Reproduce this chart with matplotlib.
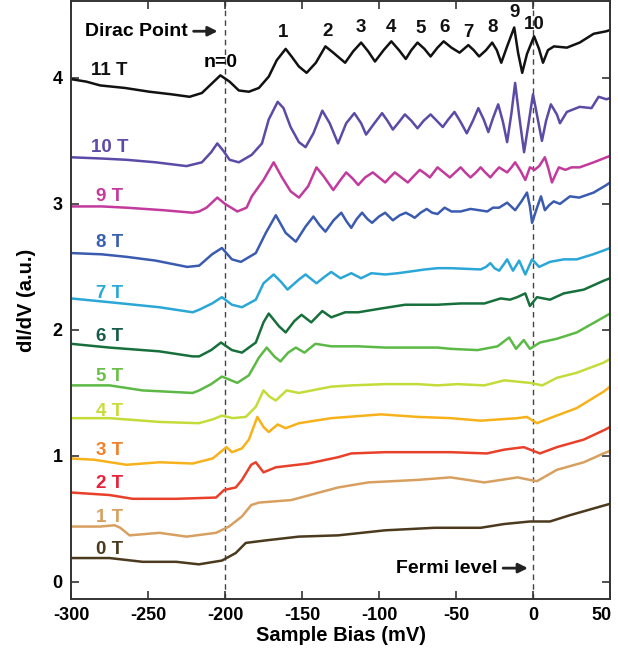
import matplotlib
matplotlib.use("Agg")
import matplotlib.pyplot as plt
from matplotlib.transforms import ScaledTranslation

plt.rcParams['font.family'] = ['Liberation Sans', 'DejaVu Sans']
plt.rcParams['font.weight'] = 'bold'
plt.rcParams['axes.unicode_minus'] = False

# bias (mV) and dI/dV (a.u., offset), one pair per field
bias_11 = [-300, -290, -281, -265, -249, -235, -223, -215, -209, -203, -197, -191, -184.5, -178, -171.6, -166.4,
           -160.6, -156.8, -152, -147, -141, -134.8, -129.7, -122, -116.8, -111.6, -107, -102.6, -97, -92, -87,
           -82.6, -79, -75, -70.5, -66.5, -62, -58, -53, -47.7, -42, -38.5, -35, -30.5, -26.5, -23.5, -20.6,
           -16.8, -12.2, -9.7, -7, -3.9, 0.7, 3.9, 6.5, 9.7, 13.6, 22, 30.3, 39.4, 47.7, 50]
didv_11 = [3.99, 3.97, 3.94, 3.92, 3.89, 3.87, 3.85, 3.88, 3.95, 4.02, 3.97, 3.90, 3.89, 3.92, 4.01, 4.14,
           4.23, 4.17, 4.09, 4.04, 4.12, 4.25, 4.20, 4.12, 4.21, 4.28, 4.21, 4.13, 4.22, 4.29, 4.22,
           4.15, 4.22, 4.28, 4.23, 4.17, 4.24, 4.29, 4.24, 4.20, 4.26, 4.22, 4.17, 4.22, 4.28, 4.22, 4.12,
           4.25, 4.40, 4.20, 4.04, 4.19, 4.33, 4.23, 4.12, 4.22, 4.25, 4.24, 4.28, 4.35, 4.37, 4.38]

bias_10 = [-300, -280, -264, -245, -225, -215, -209, -205, -201, -197, -191, -182.6, -176, -171.6, -165.8, -162,
           -157.4, -152, -147.7, -142.6, -136.8, -132, -126.6, -121.3, -116, -111.6, -108.4, -103, -98, -94.5,
           -91, -87, -83.2, -79, -75, -71, -66.5, -62.5, -58.6, -55, -51, -47, -43, -39, -35.5, -32, -29, -26,
           -22.6, -19.5, -16.8, -14, -11.6, -9, -5.8, -3, 0, 3, 5.8, 8.5, 11.6, 15.5, 17.5, 22, 30.3, 38, 42.6,
           47.7, 50]
didv_10 = [3.37, 3.36, 3.35, 3.33, 3.30, 3.33, 3.41, 3.48, 3.42, 3.35, 3.33, 3.39, 3.48, 3.67, 3.81, 3.76,
           3.61, 3.49, 3.45, 3.56, 3.74, 3.64, 3.48, 3.64, 3.72, 3.64, 3.55, 3.64, 3.72, 3.66,
           3.59, 3.65, 3.71, 3.66, 3.60, 3.66, 3.71, 3.66, 3.61, 3.67, 3.73, 3.65, 3.56, 3.66, 3.76, 3.67, 3.57,
           3.68, 3.79, 3.65, 3.49, 3.72, 3.96, 3.70, 3.41, 3.63, 3.87, 3.68, 3.50, 3.66, 3.79, 3.71, 3.64, 3.73,
           3.77, 3.76, 3.85, 3.83, 3.84]

bias_9 = [-300, -280, -264, -240, -221, -216.8, -212, -205, -200, -192, -186, -182.6, -175, -168.4, -163, -157.4,
          -152, -146, -140.6, -136, -129.7, -125, -121.3, -117, -113.5, -109, -104, -100, -96, -93, -89.7, -85.5,
          -81.3, -77.5, -73.5, -70, -67, -64.5, -62, -58, -54, -50.5, -47, -44, -40.6, -37, -34, -31, -27.7, -25,
          -22, -19.5, -16.8, -14, -11.6, -8, -5, -2, 1, 4, 7.7, 10, 12.3, 14.5, 16.8, 21, 25, 30.3, 39.4, 47.7,
          50]
didv_9 = [2.98, 2.98, 2.97, 2.95, 2.93, 2.94, 2.97, 3.05, 3.00, 2.94, 2.97, 3.06, 3.19, 3.33, 3.21, 3.10,
          3.05, 3.14, 3.29, 3.22, 3.11, 3.19, 3.25, 3.20, 3.15, 3.21, 3.25, 3.21, 3.17, 3.21, 3.25, 3.21,
          3.17, 3.22, 3.27, 3.24, 3.21, 3.25, 3.29, 3.25, 3.21, 3.25, 3.29, 3.25, 3.21, 3.25, 3.29, 3.25, 3.21,
          3.25, 3.29, 3.27, 3.25, 3.29, 3.33, 3.26, 3.19, 3.29, 3.27, 3.30, 3.37, 3.28, 3.17, 3.23, 3.29, 3.27,
          3.29, 3.29, 3.33, 3.37, 3.38]

bias_8 = [-300, -280, -264, -245, -224.5, -216.8, -208.4, -202, -195.5, -189.7, -180, -173.5, -167, -160.6, -154,
          -147.7, -142.6, -138.5, -134.8, -129.5, -124.5, -121, -118, -114.5, -111, -107.5, -104.5, -100, -96,
          -93.5, -91, -86.5, -82.6, -79.5, -76.8, -73, -69, -65.5, -62, -57.4, -53, -47, -40.6, -35, -29.7, -26,
          -22, -16.8, -11.6, -7.5, -3.9, -2, -0.6, 2.6, 5.2, 7.7, 10.5, 13.5, 17.5, 24, 30, 39.4, 47.7, 50]
didv_8 = [2.61, 2.60, 2.58, 2.55, 2.50, 2.51, 2.60, 2.65, 2.56, 2.54, 2.61, 2.77, 2.91, 2.77, 2.70,
          2.82, 2.90, 2.83, 2.78, 2.87, 2.93, 2.86, 2.81, 2.88, 2.93, 2.88, 2.85, 2.90, 2.93,
          2.90, 2.87, 2.91, 2.93, 2.91, 2.89, 2.93, 2.96, 2.93, 2.92, 2.97, 2.94, 2.94, 2.96, 2.95, 2.94, 2.97,
          2.97, 3.01, 2.95, 3.02, 3.09, 2.98, 2.85, 2.97, 3.06, 2.95, 2.99, 3.02, 3.00, 3.06, 3.05, 3.09, 3.15, 3.17]

bias_7 = [-300, -275, -242.6, -221, -216.8, -208.4, -202, -195.5, -189, -180, -175, -168.4, -163.5, -159.4, -152,
          -147.7, -140.6, -135.5, -131, -125, -118, -111.6, -105, -96, -87.7, -70, -62, -53.5, -34, -30.5, -27.7,
          -25, -22, -19, -16.8, -13, -9, -5, -0.6, 4, 11, 20, 28.4, 39, 45.8, 50]
didv_7 = [2.25, 2.22, 2.18, 2.14, 2.16, 2.21, 2.26, 2.20, 2.18, 2.24, 2.37, 2.44, 2.38, 2.32, 2.40,
          2.44, 2.37, 2.42, 2.46, 2.41, 2.45, 2.41, 2.45, 2.44, 2.45, 2.48, 2.49, 2.49, 2.48, 2.50, 2.53,
          2.49, 2.47, 2.52, 2.56, 2.47, 2.55, 2.44, 2.56, 2.50, 2.54, 2.56, 2.56, 2.60, 2.63, 2.65]

bias_6 = [-300, -275, -242.6, -221, -216.8, -209, -202.6, -195.5, -189, -180, -175, -171.6, -165, -160.6, -155,
          -150.3, -144, -136.8, -131, -122, -113.5, -98.7, -83, -62, -47, -31.6, -21, -15, -10.3, -5, -2, 2.6,
          11, 20, 33, 45.8, 50]
didv_6 = [1.89, 1.86, 1.83, 1.79, 1.79, 1.84, 1.90, 1.84, 1.82, 1.90, 2.06, 2.13, 2.03, 1.98, 2.07,
          2.12, 2.06, 2.15, 2.10, 2.14, 2.14, 2.17, 2.20, 2.20, 2.21, 2.21, 2.25, 2.24, 2.26, 2.29, 2.19, 2.26,
          2.24, 2.29, 2.32, 2.39, 2.41]

bias_5 = [-300, -275, -253.5, -221, -216.8, -209, -202, -192, -184.5, -178, -172.9, -168, -164, -159, -154,
          -148.4, -141.3, -131, -113.5, -96, -75, -62, -53.5, -36, -23, -15.5, -11, -6, -2, 4.5, 15.5, 28.4,
          45.8, 50]
didv_5 = [1.56, 1.56, 1.52, 1.50, 1.52, 1.57, 1.63, 1.58, 1.64, 1.78, 1.86, 1.79, 1.75, 1.82, 1.86,
          1.82, 1.89, 1.87, 1.87, 1.86, 1.86, 1.86, 1.85, 1.84, 1.87, 1.94, 1.85, 1.92, 1.85, 1.90, 1.93, 1.98,
          2.10, 2.13]

bias_4 = [-300, -275, -242.6, -217, -208, -202, -195, -186.5, -180, -175, -171, -167, -160, -152, -131, -118, -96,
          -75, -62, -49, -31.6, -18.7, -2, 6, 15.5, 28.4, 45.8, 50]
didv_4 = [1.30, 1.30, 1.27, 1.26, 1.29, 1.32, 1.30, 1.31, 1.39, 1.52, 1.47, 1.44, 1.52, 1.50, 1.55, 1.56, 1.57,
          1.57, 1.56, 1.57, 1.56, 1.60, 1.58, 1.56, 1.62, 1.66, 1.74, 1.77]

bias_3 = [-300, -285, -264, -242.6, -221, -208, -199, -195.5, -189, -184.5, -179, -175, -171.6, -165.8, -160.6,
          -152, -131, -98.7, -75, -53.5, -34, -10, -4, 2.6, 11, 28.4, 45.8, 50]
didv_3 = [0.98, 0.97, 0.93, 0.95, 0.94, 0.98, 1.07, 1.03, 1.06, 1.13, 1.31, 1.23, 1.19, 1.25, 1.22,
          1.26, 1.30, 1.33, 1.31, 1.30, 1.28, 1.30, 1.31, 1.26, 1.30, 1.38, 1.51, 1.55]

bias_2 = [-300, -275, -260, -231.6, -205.8, -200.6, -193, -189, -183, -180, -175, -167, -146, -126.6, -118, -96, -75,
          -53.5, -30, -18.7, -6, 4.5, 15.5, 33, 47, 50]
didv_2 = [0.71, 0.69, 0.66, 0.66, 0.67, 0.73, 0.75, 0.81, 0.93, 0.95, 0.87, 0.91, 0.94, 0.99, 1.02, 1.03, 1.03,
          1.03, 1.02, 1.05, 1.07, 1.02, 1.07, 1.13, 1.21, 1.23]

bias_1 = [-300, -281, -271.6, -268, -262, -242.6, -225, -205.8, -197.4, -189, -183, -178, -157, -126.6, -107, -75,
          -53.5, -31.6, -10, -2, 2.6, 15.5, 33, 45.8, 50]
didv_1 = [0.44, 0.44, 0.45, 0.43, 0.37, 0.39, 0.36, 0.39, 0.44, 0.52, 0.61, 0.63, 0.65, 0.75, 0.79, 0.81, 0.83,
          0.79, 0.83, 0.81, 0.80, 0.89, 0.95, 1.02, 1.04]

bias_0 = [-300, -275, -253.5, -231.6, -217, -202, -193, -186.5, -173.5, -152, -126.6, -96, -64, -34, -18.7, -2, 11,
          24, 47, 50]
didv_0 = [0.19, 0.19, 0.16, 0.16, 0.14, 0.17, 0.23, 0.31, 0.33, 0.36, 0.37, 0.41, 0.43, 0.43, 0.46, 0.48, 0.48,
          0.53, 0.61, 0.62]

field_labels = ['11 T', '10 T', '9 T', '8 T', '7 T', '6 T', '5 T', '4 T', '3 T', '2 T', '1 T', '0 T']
label_y = [4.06, 3.45, 3.06, 2.69, 2.29, 1.95, 1.63, 1.35, 1.04, 0.78, 0.51, 0.26]

ll_numbers = ['1', '2', '3', '4', '5', '6', '7', '8', '9', '10']
ll_x = [-162, -133.5, -111.6, -92, -72.9, -57.4, -42, -26.5, -12.2, 0.7]
ll_y = [4.36, 4.37, 4.40, 4.40, 4.39, 4.40, 4.36, 4.40, 4.52, 4.42]

curves = [(bias_11, didv_11), (bias_10, didv_10), (bias_9, didv_9), (bias_8, didv_8), (bias_7, didv_7),
          (bias_6, didv_6), (bias_5, didv_5), (bias_4, didv_4), (bias_3, didv_3), (bias_2, didv_2),
          (bias_1, didv_1), (bias_0, didv_0)]
line_colors = ['#111111', '#5b4aa6', '#c23a9b', '#3a5bb0', '#2aa7d6', '#17703c', '#5cb946', '#c4dc3a',
               '#f7b21b', '#e8402a', '#d8a060', '#4b3a1e']
text_colors = ['#111111', '#5e4aa8', '#c4399a', '#3a5fb2', '#2aa9d8', '#175c4a', '#6cc04a', '#c9dc3a',
               '#f0802a', '#e8203a', '#d8a060', '#4a3a1e']

fig = plt.figure(figsize=(6.18, 6.55), dpi=100)
ax = fig.add_axes([71 / 618, 1 - 599 / 655, (610 - 71) / 618, 598 / 655])

ax.axvline(-200, color='#444444', lw=1.0, ls=(0, (4, 3)), zorder=1)
ax.axvline(0, color='#444444', lw=1.0, ls=(0, (4, 3)), zorder=1)

for (xs, ys), c in zip(curves, line_colors):
    ax.plot(xs, ys, color=c, lw=1.8, zorder=2, solid_joinstyle='round')

for lab, yy, c in zip(field_labels, label_y, text_colors):
    ax.text(-275, yy, lab, color=c, fontsize=13.5, fontweight='bold', ha='center', va='center')

for lab, xx, yy in zip(ll_numbers, ll_x, ll_y):
    ax.text(xx, yy, lab, color='#111111', fontsize=13.5, fontweight='bold', ha='center', va='center')

ax.text(-202.6, 4.12, 'n=0', fontsize=14, fontweight='bold', ha='center', va='center')
ax.annotate('Dirac Point', xy=(-203, 4.37), xytext=(-224, 4.37), fontsize=14, fontweight='bold',
            ha='right', va='center', arrowprops=dict(arrowstyle='-|>', color='#222222', lw=2))
ax.annotate('Fermi level', xy=(-1.5, 0.11), xytext=(-23, 0.11), fontsize=14, fontweight='bold',
            ha='right', va='center', arrowprops=dict(arrowstyle='-|>', color='#222222', lw=2))

ax.set_xlim(-300, 50)
ax.set_ylim(-0.135, 4.61)
ax.set_xticks([-300, -250, -200, -150, -100, -50, 0, 50])
ax.set_yticks([0, 1, 2, 3, 4])
ax.tick_params(direction='in', top=True, right=True, length=6, width=1.2, labelsize=13, pad=6,
               color='#333333')
for s in ax.spines.values():
    s.set_linewidth(1.4)
    s.set_color('#333333')
ax.set_xlabel('Sample Bias (mV)', fontsize=14.5, fontweight='bold', labelpad=1)
ax.set_ylabel('dI/dV (a.u.)', fontsize=14.5, fontweight='bold', labelpad=12)

# keep the last tick label inside the figure edge
last = ax.get_xticklabels()[-1]
last.set_transform(last.get_transform() + ScaledTranslation(-6 / 72, 0, fig.dpi_scale_trans))

fig.savefig('out.png', dpi=100)
